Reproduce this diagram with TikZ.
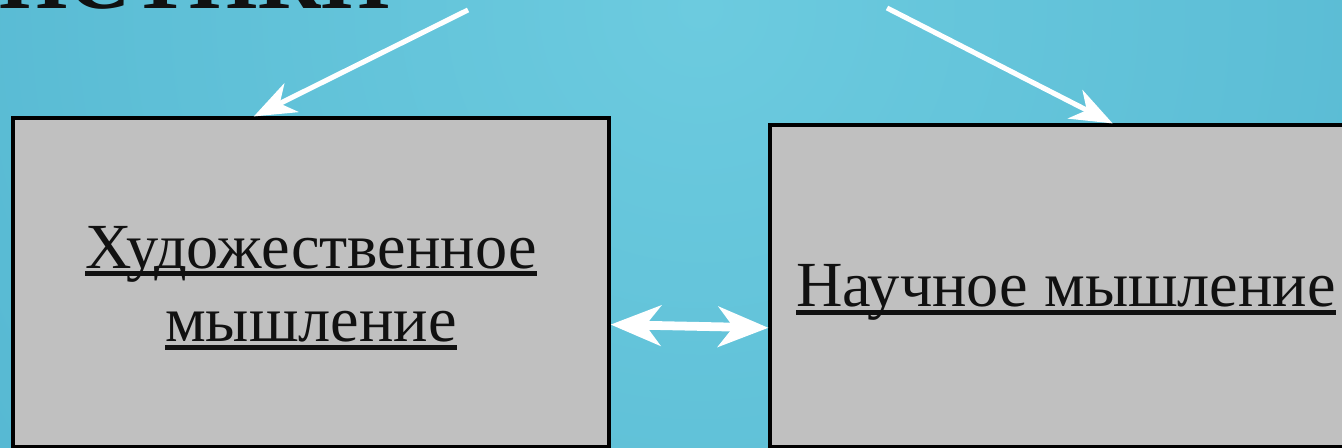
\documentclass[tikz,border=0pt]{standalone}
\usepackage{fontspec}
\setmainfont{Liberation Serif}
\usetikzlibrary{arrows.meta,calc}

\definecolor{bglight}{RGB}{108,203,223}
\definecolor{bgdark}{RGB}{62,164,196}
\definecolor{boxgray}{RGB}{192,192,192}
\definecolor{ink}{RGB}{17,17,17}

% thick underline as in the slide
\newcommand{\thickul}[1]{\setbox0\hbox{#1}\rlap{\rule[-0.08cm]{\wd0}{0.05cm}}\box0}

\tikzset{
  box/.style={draw=black, line width=0.9pt, fill=boxgray},
  boxtext/.style={text=ink, align=center, inner sep=0pt,
    font=\fontsize{18.3pt}{20.8pt}\selectfont},
  whitearrow/.style={draw=white, line width=1.45pt,
    -{Stealth[length=0.42cm, width=0.32cm, inset=0.13cm]}},
  bothways/.style={draw=white, line width=2.5pt,
    {Stealth[length=0.5cm, width=0.4cm, inset=0.15cm]}-{Stealth[length=0.5cm, width=0.4cm, inset=0.15cm]}}
}

\begin{document}
\begin{tikzpicture}
  \useasboundingbox (0,0) rectangle (13.42,4.48);
  \clip (0,0) rectangle (13.42,4.48);
  \shade[inner color=bglight, outer color=bgdark] (7,4.4) circle (18);

  \node[anchor=base east, inner sep=0pt, text=ink,
    font=\fontsize{25pt}{30pt}\selectfont\bfseries] (title) at (3.91,4.39) {ИСТИКИ};

  \node[box, minimum width=5.96cm, minimum height=3.29cm] (art) at (3.11,1.655) {};
  \node[box, minimum width=5.92cm, minimum height=3.22cm] (science) at (10.66,1.62) {};

  \node[boxtext] (arttext) at ([yshift=-0.055cm]art.center)
    {\thickul{Художественное}\\\thickul{мышление}};
  \node[boxtext] (sciencetext) at ([yshift=-0.065cm]science.center)
    {\thickul{Научное мышление}};

  \coordinate (lefttail) at (4.68,4.38);
  \coordinate (righttail) at (8.87,4.40);

  \draw[whitearrow] (lefttail) -- (art.109.4);
  \draw[whitearrow] (righttail) -- (science.74);
  \draw[bothways] (art.-8.1) -- (science.188.1);
\end{tikzpicture}
\end{document}
